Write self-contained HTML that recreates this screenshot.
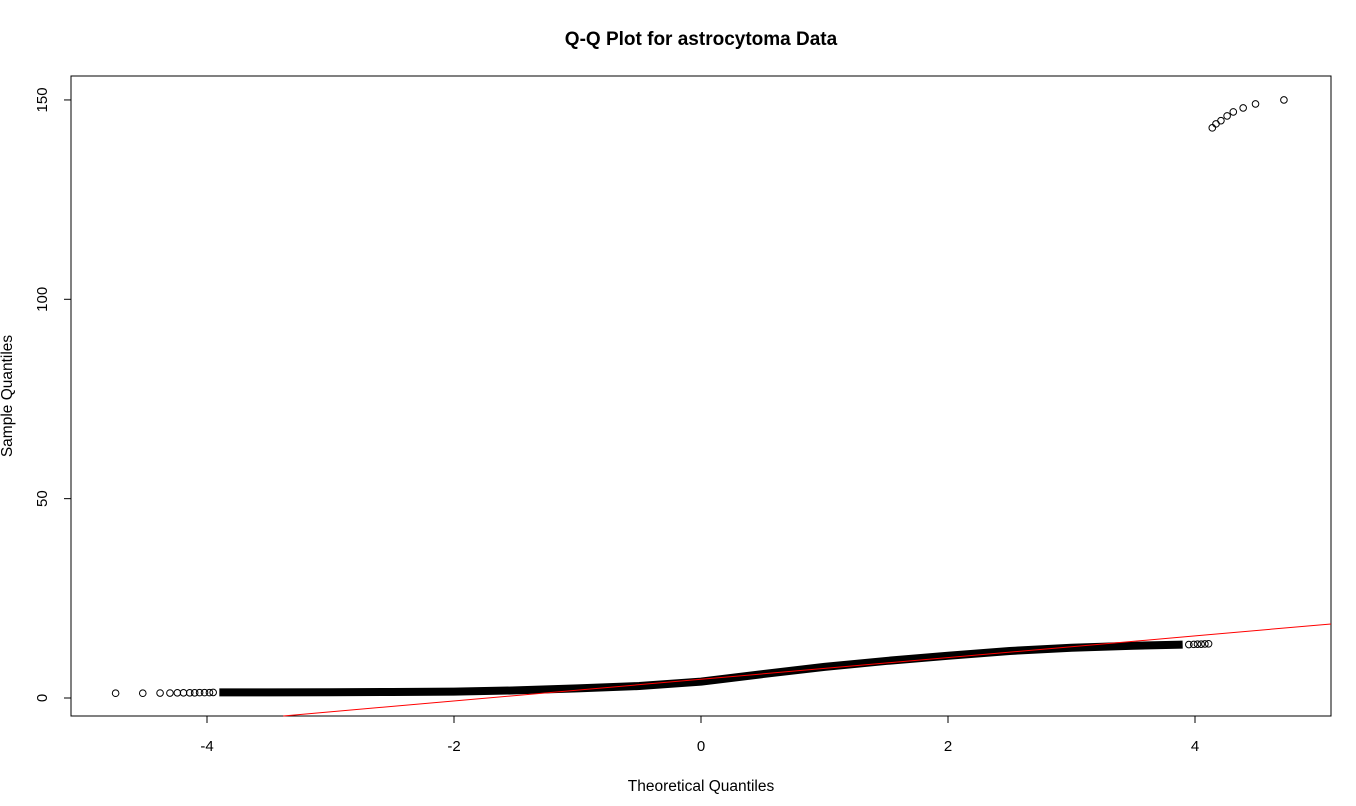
<!DOCTYPE html>
<html><head><meta charset="utf-8"><style>
html,body{margin:0;padding:0;background:#fff;}
svg text{font-family:"Liberation Sans",Arial,sans-serif;}
</style></head><body>
<svg id="chart" width="1356" height="801" xmlns="http://www.w3.org/2000/svg">
<text x="701" y="45" text-anchor="middle" font-size="19" font-weight="bold">Q-Q Plot for astrocytoma Data</text>
<rect x="71" y="76" width="1260" height="640" fill="none" stroke="#000" stroke-width="1"/>
<g id="xaxis"></g>
<g id="yaxis"></g>
<text x="701" y="791" text-anchor="middle" font-size="15.5">Theoretical Quantiles</text>
<text transform="translate(12,396) rotate(-90)" text-anchor="middle" font-size="15.5">Sample Quantiles</text>
<g id="band"></g>
<g id="pts"></g>
<g id="ref"></g>
</svg>
<script>
const xTicks = [-4, -2, 0, 2, 4];
const yTicks = [0, 50, 100, 150];
// dense main body of sample quantiles (theoretical, sample)
const bandX = [-3.9, -3.5, -3.0, -2.5, -2.0, -1.5, -1.0, -0.5, 0, 0.5, 1.0, 1.5, 2.0, 2.5, 3.0, 3.5, 3.9];
const bandY = [1.4, 1.4, 1.45, 1.5, 1.6, 1.9, 2.4, 3.0, 4.1, 6.0, 7.8, 9.3, 10.6, 11.8, 12.6, 13.1, 13.4];
// sparse tail points
const tailX = [-4.74, -4.52, -4.38, -4.3, -4.24, -4.19, -4.14, -4.1, -4.06, -4.02, -3.98, -3.95, 3.95, 3.99, 4.02, 4.05, 4.08, 4.11];
const tailY = [1.2, 1.2, 1.25, 1.25, 1.3, 1.3, 1.3, 1.3, 1.35, 1.35, 1.35, 1.4, 13.4, 13.45, 13.5, 13.5, 13.55, 13.6];
const outX = [4.14, 4.17, 4.21, 4.26, 4.31, 4.39, 4.49, 4.72];
const outY = [143, 144, 144.8, 146, 147, 148, 149, 150];
const lineIntercept = 4.7;
const lineSlope = 2.72;

const NS = "http://www.w3.org/2000/svg";
const L = 71, R = 1331, T = 76, B = 716;
const sx = v => 701 + v * 123.5;
const sy = v => 698 - v * 3.987;
function mk(tag, attrs, parent) {
  const e = document.createElementNS(NS, tag);
  for (const k in attrs) e.setAttribute(k, attrs[k]);
  parent.appendChild(e);
  return e;
}
const xa = document.getElementById('xaxis');
mk('line', {x1: sx(xTicks[0]), x2: sx(xTicks[xTicks.length-1]), y1: B, y2: B, stroke: '#000'}, xa);
xTicks.forEach(t => {
  const tk = mk('line', {x1: sx(t), x2: sx(t), y1: B, y2: B + 7, stroke: '#000'}, xa);
  
  
  const lb = mk('text', {x: sx(t), y: B + 35, 'text-anchor': 'middle', 'font-size': 15}, xa);
  lb.textContent = t;
  
  
});
const ya = document.getElementById('yaxis');
mk('line', {x1: L, x2: L, y1: sy(yTicks[0]), y2: sy(yTicks[yTicks.length-1]), stroke: '#000'}, ya);
yTicks.forEach(t => {
  const tk = mk('line', {x1: L - 7, x2: L, y1: sy(t), y2: sy(t), stroke: '#000'}, ya);
  
  
  const lb = mk('text', {'text-anchor': 'middle', 'font-size': 15, transform: `translate(47,${sy(t)}) rotate(-90)`}, ya);
  lb.textContent = t;
  
  
});
const band = document.getElementById('band');
let d = bandX.map((x, i) => (i ? 'L' : 'M') + sx(x) + ' ' + sy(bandY[i])).join(' ');
const bp = mk('path', {d: d, stroke: '#000', 'stroke-width': 8, fill: 'none', 'stroke-linejoin': 'round'}, band);


const pts = document.getElementById('pts');
function circ(x, y) {
  const c = mk('circle', {cx: sx(x), cy: sy(y), r: 3.3, fill: 'none', stroke: '#000', 'stroke-width': 1}, pts);
  
  
}
tailX.forEach((x, i) => circ(x, tailY[i]));
outX.forEach((x, i) => circ(x, outY[i]));
const ref = document.getElementById('ref');
const xa0 = (-4.5 - lineIntercept) / lineSlope;
const xb = (R - 701) / 123.5;
const rl = mk('line', {x1: sx(xa0), y1: sy(lineIntercept + lineSlope * xa0), x2: sx(xb), y2: sy(lineIntercept + lineSlope * xb), stroke: '#ff0000', 'stroke-width': 1}, ref);


</script>
</body></html>
